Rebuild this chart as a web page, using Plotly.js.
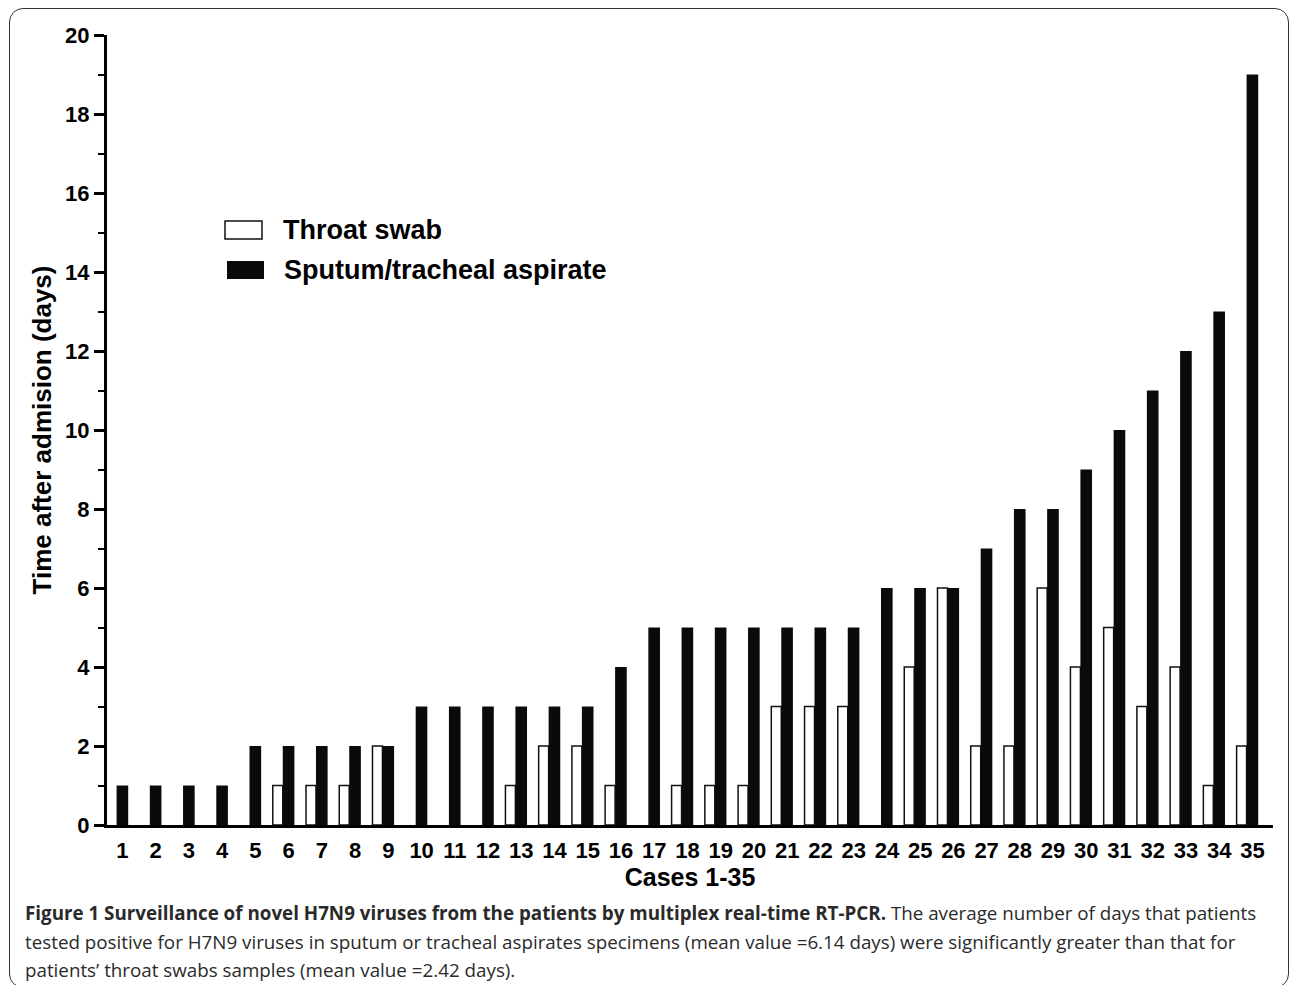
<!DOCTYPE html>
<html>
<head>
<meta charset="utf-8">
<script src="https://cdn.plot.ly/plotly-3.0.1.min.js"></script>
<style>
  html, body { margin: 0; padding: 0; background: #fff; overflow: hidden; }
  #frame { position: absolute; left: 9px; top: 8px; width: 1280px; height: 980px;
           border: 1.5px solid #333; border-radius: 14px; box-sizing: border-box; }
  #chart { position: absolute; left: 0; top: 0; width: 1290px; height: 985px; }
</style>
</head>
<body>
<div id="frame"></div>
<div id="chart"></div>
<script>
// ---- data ----
const cases = [1,2,3,4,5,6,7,8,9,10,11,12,13,14,15,16,17,18,19,20,21,22,23,24,25,26,27,28,29,30,31,32,33,34,35];
const caseLabels = cases.map(String);
const throatSwab = [0,0,0,0,0,1,1,1,2,0,0,0,1,2,2,1,0,1,1,1,3,3,3,0,4,6,2,2,6,4,5,3,4,1,2];
const sputum =     [1,1,1,1,2,2,2,2,2,3,3,3,3,3,3,4,5,5,5,5,5,5,5,6,6,6,7,8,8,9,10,11,12,13,19];
const seriesNames = ['Throat swab', 'Sputum/tracheal aspirate'];
const yTickVals = [0,2,4,6,8,10,12,14,16,18,20];

// ---- geometry helpers (pixel -> paper) ----
const W = 1290, H = 985;
const M = {l: 107, r: 17, t: 35, b: 160};
const PW = W - M.l - M.r, PH = H - M.t - M.b;
const px = x => (x - M.l) / PW;
const py = y => (H - M.b - y) / PH;

const FONT = 'Liberation Sans, Arial, sans-serif';

const traces = [
  {
    type: 'bar', name: seriesNames[0], x: cases, y: throatSwab,
    width: 0.30, offset: -0.478,
    marker: {color: '#ffffff', line: {color: '#111', width: throatSwab.map(v => v > 0 ? 1.5 : 0)}},
    showlegend: false, hoverinfo: 'x+y+name'
  },
  {
    type: 'bar', name: seriesNames[1], x: cases, y: sputum,
    width: 0.35, offset: -0.178,
    marker: {color: '#0a0a0a', line: {width: 0}},
    showlegend: false, hoverinfo: 'x+y+name'
  }
];

const capFont = {family: 'Open Sans, sans-serif', size: 18.8, color: '#2a2a2a'};
const capLines = [
  '<b>Figure 1 Surveillance of novel H7N9 viruses from the patients by multiplex real-time RT-PCR.</b> The average number of days that patients',
  'tested positive for H7N9 viruses in sputum or tracheal aspirates specimens (mean value =6.14 days) were significantly greater than that for',
  'patients\u2019 throat swabs samples (mean value =2.42 days).'
];
const capY = [913, 942, 970];

const annotations = [
  {xref: 'paper', yref: 'paper', x: px(281), y: py(230), xanchor: 'left', yanchor: 'middle',
   text: seriesNames[0], showarrow: false, font: {family: FONT, size: 27, color: '#000', weight: 'bold'}},
  {xref: 'paper', yref: 'paper', x: px(282), y: py(270), xanchor: 'left', yanchor: 'middle',
   text: seriesNames[1], showarrow: false, font: {family: FONT, size: 27, color: '#000', weight: 'bold'}}
].concat(capLines.map((t, i) => ({
  xref: 'paper', yref: 'paper', x: px(23), y: py(capY[i]), xanchor: 'left', yanchor: 'middle',
  text: t, showarrow: false, font: capFont, align: 'left'
})));

const shapes = [
  {type: 'rect', xref: 'paper', yref: 'paper', x0: px(225), x1: px(262), y0: py(239), y1: py(221),
   fillcolor: '#fff', line: {color: '#111', width: 1.5}},
  {type: 'rect', xref: 'paper', yref: 'paper', x0: px(227), x1: px(264), y0: py(279), y1: py(261),
   fillcolor: '#0a0a0a', line: {width: 0}}
];

const layout = {
  width: W, height: H,
  margin: M,
  paper_bgcolor: 'rgba(0,0,0,0)', plot_bgcolor: 'rgba(0,0,0,0)',
  barmode: 'overlay',
  showlegend: false,
  font: {family: FONT, color: '#000'},
  xaxis: {
    range: [0.534, 35.617], tickmode: 'array', tickvals: cases, ticktext: caseLabels,
    showline: true, linewidth: 3, linecolor: '#000', ticks: '', showgrid: false, zeroline: false,
    tickfont: {family: FONT, size: 22, color: '#000', weight: 'bold'},
    ticklabelstandoff: 4,
    title: {text: 'Cases 1-35', font: {family: FONT, size: 25, color: '#000', weight: 'bold'}, standoff: 6},
    automargin: false, fixedrange: true
  },
  yaxis: {
    range: [0, 20], tickmode: 'array', tickvals: yTickVals,
    showline: true, linewidth: 3, linecolor: '#000',
    ticks: 'outside', ticklen: 10, tickwidth: 3, tickcolor: '#000',
    minor: {dtick: 1, ticks: 'outside', ticklen: 6, tickwidth: 2, tickcolor: '#000', showgrid: false},
    showgrid: false, zeroline: false,
    tickfont: {family: FONT, size: 22, color: '#000', weight: 'bold'},
    title: {text: 'Time after admision (days)', font: {family: FONT, size: 26, color: '#000', weight: 'bold'}, standoff: 7},
    automargin: false, fixedrange: true
  },
  annotations: annotations,
  shapes: shapes
};

Plotly.newPlot('chart', traces, layout, {displayModeBar: false, staticPlot: true});
</script>
</body>
</html>
